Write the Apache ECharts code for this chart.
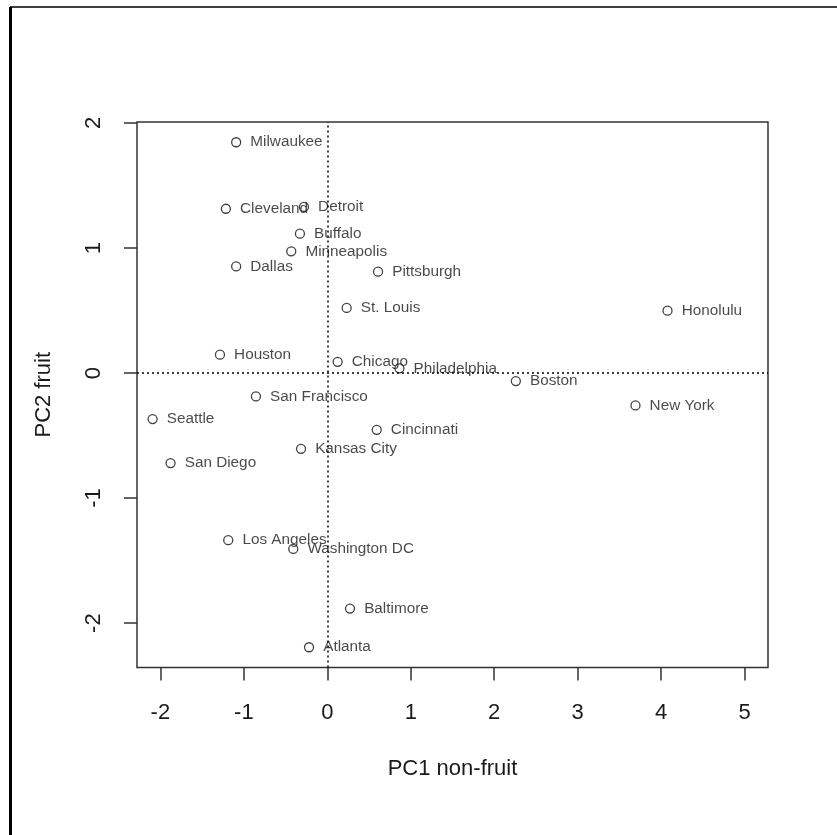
<!DOCTYPE html>
<html>
<head>
<meta charset="utf-8">
<script src="https://cdn.jsdelivr.net/npm/echarts@6/dist/echarts.min.js"></script>
<style>
html,body{margin:0;padding:0;background:#fff;}
#chart{width:837px;height:835px;}
</style>
</head>
<body>
<div id="chart"></div>
<script>
// ---- data ----
var cities = ["Milwaukee","Cleveland","Detroit","Buffalo","Minneapolis","Dallas","Pittsburgh","St. Louis","Honolulu","Houston","Chicago","Philadelphia","Boston","New York","San Francisco","Seattle","Cincinnati","Kansas City","San Diego","Los Angeles","Washington DC","Baltimore","Atlanta"];
var pc1 = [-1.092,-1.215,-0.280,-0.328,-0.432,-1.092,0.608,0.232,4.076,-1.286,0.124,0.864,2.259,3.692,-0.855,-2.093,0.592,-0.315,-1.878,-1.187,-0.408,0.272,-0.219];
var pc2 = [1.846,1.314,1.329,1.115,0.974,0.853,0.811,0.521,0.499,0.147,0.090,0.038,-0.064,-0.259,-0.187,-0.368,-0.454,-0.606,-0.720,-1.337,-1.407,-1.884,-2.193];
var xTicks = [-2,-1,0,1,2,3,4,5];
var yTicks = [-2,-1,0,1,2];
var xRange = [-2.28, 5.28];
var yRange = [-2.355, 2.008];
var xTitle = "PC1 non-fruit";
var yTitle = "PC2 fruit";

var FONT = "'Liberation Sans', Arial, Helvetica, sans-serif";
var points = cities.map(function(c,i){ return {name:c, value:[pc1[i], pc2[i]]}; });

var chart = echarts.init(document.getElementById('chart'), null, {renderer:'canvas'});
chart.setOption({
  animation:false,
  backgroundColor:'#ffffff',
  grid:{left:137, top:122, width:631, height:545.5, show:true, borderColor:'#333', borderWidth:1.5, backgroundColor:'transparent'},
  xAxis:{
    type:'value', min:xRange[0], max:xRange[1],
    splitLine:{show:false}, axisLine:{show:false, onZero:false},
    axisTick:{show:true, inside:false, length:13, customValues:xTicks, lineStyle:{color:'#333', width:1.5}},
    axisLabel:{show:true, customValues:xTicks, margin:34, fontSize:22, color:'#1a1a1a', fontFamily:FONT},
    name:xTitle, nameLocation:'middle', nameGap:90,
    nameTextStyle:{fontSize:22, color:'#1a1a1a', fontFamily:FONT}
  },
  yAxis:{
    type:'value', min:yRange[0], max:yRange[1],
    splitLine:{show:false}, axisLine:{show:false, onZero:false},
    axisTick:{show:true, inside:false, length:13, customValues:yTicks, lineStyle:{color:'#333', width:1.5}},
    axisLabel:{show:true, customValues:yTicks, rotate:90, margin:32, fontSize:22, color:'#1a1a1a', fontFamily:FONT},
    name:yTitle, nameLocation:'middle', nameGap:82,
    nameTextStyle:{fontSize:22, color:'#1a1a1a', fontFamily:FONT}
  },
  series:[{
    type:'scatter',
    data:points,
    symbol:'circle', symbolSize:9,
    itemStyle:{color:'rgba(0,0,0,0)', borderColor:'#111', borderWidth:1.3},
    label:{show:true, position:'right', distance:9, formatter:'{b}', fontSize:15.3, color:'#1a1a1a', fontFamily:FONT},
    emphasis:{disabled:true},
    markLine:{
      silent:true, symbol:'none', animation:false,
      label:{show:false},
      lineStyle:{type:[2,3], color:'#000', width:1.5},
      data:[{xAxis:0},{yAxis:0}]
    }
  }],
  graphic:[
    {type:'line', shape:{x1:10, y1:7, x2:837, y2:7}, style:{stroke:'#000', lineWidth:1.5}},
    {type:'line', shape:{x1:10.5, y1:7, x2:10.5, y2:835}, style:{stroke:'#000', lineWidth:3}}
  ]
});
</script>
</body>
</html>
